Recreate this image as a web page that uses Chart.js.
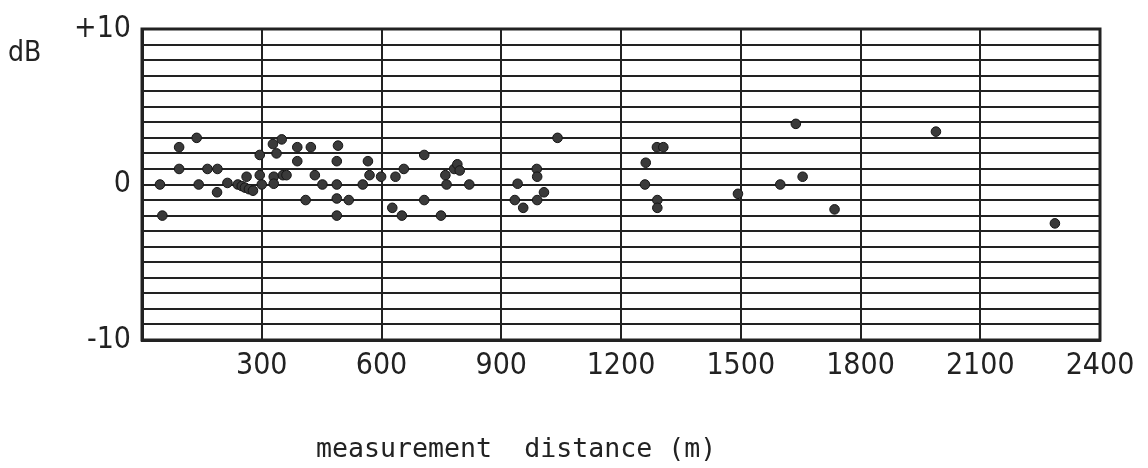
<!DOCTYPE html>
<html>
<head>
<meta charset="utf-8">
<script src="https://cdn.jsdelivr.net/npm/chart.js@4.4.1/dist/chart.umd.min.js"></script>
<style>
  html, body { margin: 0; padding: 0; background: #ffffff; }
  #wrap { width: 1148px; height: 468px; position: relative; }
</style>
</head>
<body>
<div id="wrap"><canvas id="c" width="1148" height="468"></canvas></div>
<script>
// Measurement distance (m)
const distances = [137, 93, 93, 45, 51, 142, 164, 189, 188, 214, 240, 250, 258, 268, 278, 262, 295, 295, 300,
  328, 350, 337, 330, 330, 353, 362, 389, 423, 389, 491, 488, 433, 452, 488, 410, 488, 518, 488,
  566, 570, 599, 553, 635, 656, 707, 627, 651, 707, 749, 760, 763, 782, 790, 796, 820,
  1041, 989, 990, 941, 934, 955, 990, 1007,
  1290, 1306, 1262, 1260, 1291, 1291, 1493, 1638, 1655, 1599, 1735, 1989, 2287];
// Level difference (dB)
const levels = [3, 2.4, 1, 0, -2, 0, 1, 1, -0.5, 0.1, 0, -0.1, -0.2, -0.3, -0.4, 0.5, 1.9, 0.6, 0,
  2.6, 2.9, 2, 0.5, 0.05, 0.6, 0.6, 2.4, 2.4, 1.5, 2.5, 1.5, 0.6, 0, 0, -1, -0.9, -1, -2,
  1.5, 0.6, 0.5, 0, 0.5, 1, 1.9, -1.5, -2, -1, -2, 0.6, 0, 1, 1.3, 0.9, 0,
  3, 1, 0.5, 0.05, -1, -1.5, -1, -0.5,
  2.4, 2.4, 1.4, 0, -1, -1.5, -0.6, 3.9, 0.5, 0, -1.6, 3.4, -2.5];
const xTickLabels = ['', '300', '600', '900', '1200', '1500', '1800', '2100', '2400'];
const yTickLabels = { '10': '+10', '0': '0', '-10': '-10' };
const yUnit = 'dB';
const xTitle = 'measurement  distance (m)';

const points = distances.map((d, i) => ({ x: d, y: levels[i] }));
const ink = '#222222';
const tickFont = { family: "'DejaVu Sans Condensed', Roboto, sans-serif", size: 30 };

const extraText = {
  id: 'extraText',
  afterDraw(chart) {
    const ctx = chart.ctx;
    const a = chart.chartArea;
    ctx.save();
    ctx.strokeStyle = ink;
    ctx.lineWidth = 3;
    ctx.strokeRect(a.left, a.top, a.right - a.left, a.bottom - a.top);
    ctx.fillStyle = ink;
    ctx.textBaseline = 'alphabetic';
    ctx.textAlign = 'left';
    ctx.font = "28px 'DejaVu Sans Condensed', Roboto, sans-serif";
    ctx.fillText(yUnit, 8, 61);
    ctx.font = "26.6px 'DejaVu Sans Mono', monospace";
    ctx.fillText(xTitle, 316, 457);
    ctx.restore();
  }
};

new Chart(document.getElementById('c'), {
  type: 'scatter',
  data: {
    datasets: [{
      data: points,
      backgroundColor: '#3a3a3a',
      borderColor: '#151515',
      borderWidth: 1,
      pointRadius: 4.8,
      pointHoverRadius: 4.8
    }]
  },
  options: {
    responsive: false,
    animation: false,
    events: [],
    layout: { padding: { left: 0, right: 48, top: 22, bottom: 0 } },
    plugins: { legend: { display: false }, tooltip: { enabled: false } },
    scales: {
      x: {
        type: 'linear',
        min: 0, max: 2400,
        afterFit(scale) { scale.height = 128; },
        border: { display: true, color: ink, width: 3 },
        grid: { color: ink, lineWidth: 2, drawTicks: false },
        ticks: {
          stepSize: 300,
          autoSkip: false,
          maxRotation: 0,
          padding: 8,
          color: ink,
          font: tickFont,
          callback: (v) => xTickLabels[Math.round(v / 300)] ?? ''
        }
      },
      y: {
        type: 'linear',
        min: -10, max: 10,
        afterFit(scale) { scale.width = 142; },
        border: { display: true, color: ink, width: 3 },
        grid: { color: ink, lineWidth: 2, drawTicks: false },
        ticks: {
          stepSize: 1,
          autoSkip: false,
          padding: 11,
          color: ink,
          font: tickFont,
          callback: (v) => yTickLabels[String(v)] ?? ''
        }
      }
    }
  },
  plugins: [extraText]
});
</script>
</body>
</html>
